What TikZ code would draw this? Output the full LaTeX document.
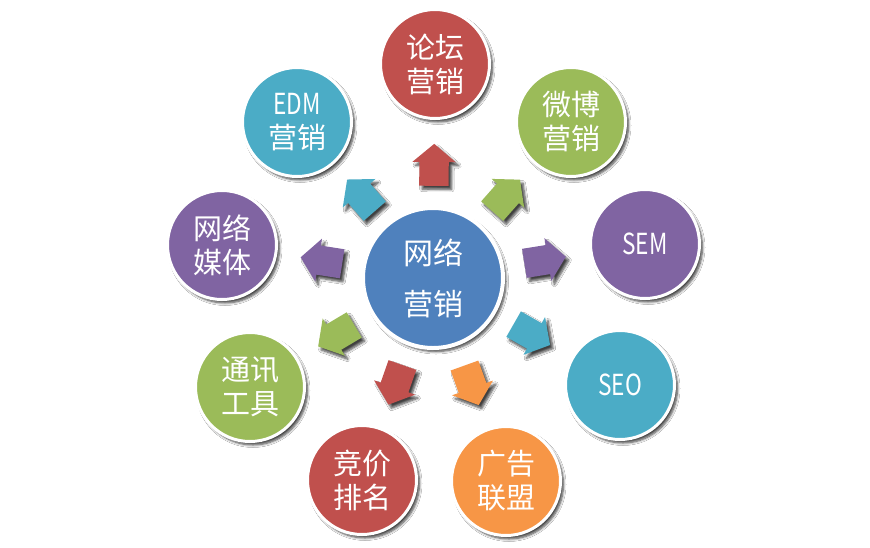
\documentclass[tikz,border=0pt]{standalone}
\usepackage{fontspec}
\setmainfont{Noto Sans CJK SC}
\usetikzlibrary{shapes.arrows,shadows.blur}
\definecolor{cred}{HTML}{C0504D}
\definecolor{cgreen}{HTML}{9BBB59}
\definecolor{cteal}{HTML}{4BACC6}
\definecolor{cpurple}{HTML}{8064A2}
\definecolor{corange}{HTML}{F79646}
\definecolor{cblue}{HTML}{4F81BD}
\tikzset{
  shad/.style={blur shadow={shadow xshift=3pt, shadow yshift=-3.5pt, shadow blur steps=6, shadow opacity=75, shadow blur radius=2.5pt}},
  outer/.style={circle, fill=#1, draw=white, line width=3pt, minimum size=109pt, inner sep=0pt,
    text=white, font=\fontsize{29}{34}\selectfont, align=center, shad},
  hub/.style={circle, fill=cblue, draw=white, line width=4pt, minimum size=140pt, inner sep=0pt,
    text=white, font=\fontsize{30}{51}\selectfont, align=center, shad},
  blockarrow/.style={single arrow, fill=#1, minimum height=42pt, inner xsep=0pt, inner ysep=14.5pt,
    single arrow head extend=7pt, single arrow tip angle=100,
    sloped, allow upside down, pos=0.5, shad},
}
\newcommand{\latn}[1]{\scalebox{0.78}[1]{#1}}
\begin{document}
\begin{tikzpicture}[x=1pt,y=-1pt]
\useasboundingbox[fill=white] (0,0) rectangle (870,547);
\node[hub] (c) at (433,278) {网络\\营销};
\node[outer=cred] (n1) at (435,64) {论坛\\营销};
\node[outer=cgreen] (n2) at (571,122) {微博\\营销};
\node[outer=cpurple] (n3) at (645,244) {\latn{SEM}};
\node[outer=cteal] (n4) at (620,385) {\latn{SEO}};
\node[outer=corange] (n5) at (506,481) {广告\\联盟};
\node[outer=cred] (n6) at (362,480) {竞价\\排名};
\node[outer=cgreen] (n7) at (250,387) {通讯\\工具};
\node[outer=cpurple] (n8) at (222,245) {网络\\媒体};
\node[outer=cteal] (n9) at (297,122) {\latn{EDM}\\营销};
\path (c.center) -- node[blockarrow=cred] (a1) {} (n1.center);
\path (c.center) -- node[blockarrow=cgreen] (a2) {} (n2.center);
\path (c.center) -- node[blockarrow=cpurple] (a3) {} (n3.center);
\path (c.center) -- node[blockarrow=cteal] (a4) {} (n4.center);
\path (c.center) -- node[blockarrow=corange] (a5) {} (n5.center);
\path (c.center) -- node[blockarrow=cred] (a6) {} (n6.center);
\path (c.center) -- node[blockarrow=cgreen] (a7) {} (n7.center);
\path (c.center) -- node[blockarrow=cpurple] (a8) {} (n8.center);
\path (c.center) -- node[blockarrow=cteal] (a9) {} (n9.center);
\end{tikzpicture}
\end{document}
